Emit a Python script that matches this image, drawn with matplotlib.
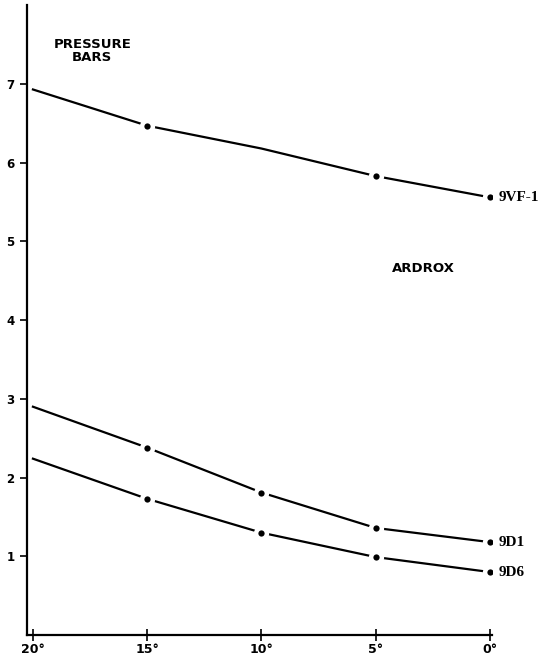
import matplotlib
matplotlib.use('Agg')
import matplotlib.pyplot as plt

angles = [20, 15, 10, 5, 0]
vf1 = [6.93, 6.47, 6.18, 5.83, 5.56]
d1 = [2.90, 2.38, 1.81, 1.36, 1.18]
d6 = [2.24, 1.73, 1.30, 0.99, 0.80]
series = [('9VF-1', vf1), ('9D1', d1), ('9D6', d6)]
# the 10 deg point of 9VF-1 has no dot in the original
marked = {'9VF-1': [15, 5, 0], '9D1': [15, 10, 5, 0], '9D6': [15, 10, 5, 0]}

xticks = [20, 15, 10, 5, 0]
xticklabels = ['20°', '15°', '10°', '5°', '0°']
yticks = [1, 2, 3, 4, 5, 6, 7]

fig = plt.figure(figsize=(5.4, 6.56), dpi=100)
ax = fig.add_axes([0.05, 0.032, 0.861, 0.96])

for name, vals in series:
    ax.plot(angles, vals, color='black', lw=1.6, zorder=2)
    mx = [a for a in angles if a in marked[name]]
    my = [v for a, v in zip(angles, vals) if a in marked[name]]
    # white halo first so the line breaks around each dot
    ax.plot(mx, my, 'o', color='white', ms=11, mew=0, zorder=3)
    ax.plot(mx, my, 'o', color='black', ms=4.5, mew=0, zorder=4)
    ax.text(-0.4, vals[-1], name, fontsize=11, family='Liberation Serif',
            fontweight='bold', va='center', ha='left', clip_on=False)

ax.text(17.4, 7.25, 'PRESSURE\nBARS', fontsize=9.5, fontweight='bold',
        ha='center', va='bottom', linespacing=1.0)
ax.text(2.9, 4.65, 'ARDROX', fontsize=9.5, fontweight='bold', ha='center', va='center')

ax.set_xlim(20.26, -0.09)
ax.set_ylim(0, 8.0)
ax.set_xticks(xticks)
ax.set_xticklabels(xticklabels, fontsize=9, fontweight='bold')
ax.set_yticks(yticks)
ax.set_yticklabels([str(t) for t in yticks], fontsize=8.5, fontweight='bold')
ax.tick_params(axis='x', direction='inout', length=8, width=1.2, pad=2)
ax.tick_params(axis='y', direction='out', length=5, width=1.2, pad=4)
for s in ['top', 'right']:
    ax.spines[s].set_visible(False)
for s in ['left', 'bottom']:
    ax.spines[s].set_linewidth(1.6)

fig.savefig('out.png', dpi=100)
